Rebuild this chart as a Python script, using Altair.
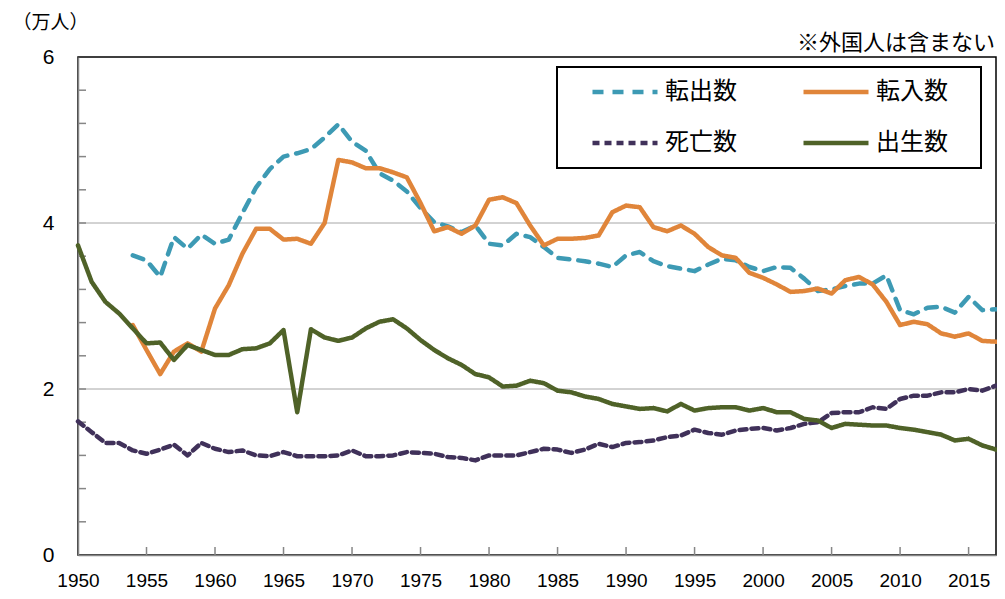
import altair as alt
import pandas as pd

years = list(range(1950, 2018))

# 転出数 (from 1954)
tenshutsu = [None, None, None, None,
             3.61, 3.55, 3.35, 3.83, 3.69, 3.86, 3.75, 3.80, 4.12, 4.43,
             4.65, 4.80, 4.84, 4.89, 5.03, 5.19, 4.98, 4.87, 4.60, 4.51,
             4.38, 4.18, 4.01, 3.96, 3.89, 3.97, 3.75, 3.73, 3.87, 3.83,
             3.71, 3.58, 3.56, 3.54, 3.51, 3.47, 3.61, 3.65, 3.54, 3.48,
             3.45, 3.42, 3.50, 3.57, 3.55, 3.47, 3.42, 3.47, 3.46, 3.33,
             3.18, 3.20, 3.24, 3.27, 3.27, 3.37, 2.95, 2.90, 2.98, 2.99,
             2.92, 3.11, 2.95, 2.96]

# 転入数 (from 1954)
tennyu = [None, None, None, None,
          2.77, 2.47, 2.18, 2.45, 2.55, 2.45, 2.97, 3.25, 3.63, 3.93,
          3.93, 3.80, 3.81, 3.75, 4.00, 4.76, 4.73, 4.66, 4.66, 4.61,
          4.55, 4.24, 3.90, 3.95, 3.87, 3.97, 4.28, 4.31, 4.24, 3.97,
          3.73, 3.81, 3.81, 3.82, 3.85, 4.13, 4.21, 4.19, 3.95, 3.90,
          3.97, 3.87, 3.71, 3.61, 3.58, 3.40, 3.34, 3.26, 3.17, 3.18,
          3.21, 3.15, 3.31, 3.35, 3.26, 3.05, 2.77, 2.81, 2.78, 2.67,
          2.63, 2.67, 2.58, 2.57]

# 死亡数
shibo = [1.61, 1.48, 1.35, 1.35, 1.26, 1.22, 1.27, 1.33, 1.20, 1.35,
         1.28, 1.24, 1.26, 1.20, 1.19, 1.24, 1.19, 1.19, 1.19, 1.20,
         1.26, 1.19, 1.19, 1.20, 1.24, 1.23, 1.22, 1.18, 1.17, 1.14,
         1.20, 1.20, 1.20, 1.24, 1.28, 1.27, 1.23, 1.27, 1.34, 1.30,
         1.35, 1.36, 1.38, 1.42, 1.44, 1.51, 1.47, 1.45, 1.50, 1.52,
         1.53, 1.50, 1.53, 1.58, 1.60, 1.71, 1.72, 1.72, 1.78, 1.76,
         1.88, 1.92, 1.92, 1.96, 1.96, 2.00, 1.98, 2.04]

# 出生数
shussei = [3.73, 3.29, 3.05, 2.91, 2.73, 2.55, 2.56, 2.35, 2.53, 2.47,
           2.41, 2.41, 2.48, 2.49, 2.55, 2.71, 1.72, 2.72, 2.62, 2.58,
           2.62, 2.73, 2.81, 2.84, 2.73, 2.59, 2.47, 2.37, 2.29, 2.18,
           2.14, 2.03, 2.04, 2.10, 2.07, 1.98, 1.96, 1.91, 1.88, 1.82,
           1.79, 1.76, 1.77, 1.73, 1.82, 1.74, 1.77, 1.78, 1.78, 1.74,
           1.77, 1.72, 1.72, 1.64, 1.62, 1.53, 1.58, 1.57, 1.56, 1.56,
           1.53, 1.51, 1.48, 1.45, 1.38, 1.40, 1.32, 1.27]

series_names = ["転出数", "転入数", "死亡数", "出生数"]
series_values = [tenshutsu, tennyu, shibo, shussei]
colors = ["#3D9AB4", "#E0853A", "#40315A", "#4F6228"]
dashes = [[11, 9], [1, 0], [7, 5], [1, 0]]
widths = [4.5, 4.5, 3.0, 2.6]

x_tick_labels = [1950, 1955, 1960, 1965, 1970, 1975, 1980, 1985, 1990, 1995, 2000, 2005, 2010, 2015]
x_minor_ticks = [1955, 1960, 1965, 1970, 1975, 1980, 1985, 1990, 1995, 2000, 2005, 2010, 2015]
y_tick_labels = [0, 2, 4, 6]
y_minor_ticks = [0.4, 0.8, 1.2, 1.6, 2.0, 2.4, 2.8, 3.2, 3.6, 4.0, 4.4, 4.8, 5.2, 5.6]
grid_values = [2, 4]

rows = []
for name, vals in zip(series_names, series_values):
    for yr, v in zip(years, vals):
        if v is not None:
            rows.append({"year": yr, "value": v, "series": name})
df = pd.DataFrame(rows)

W, H = 918, 498
JP = "Noto Sans CJK JP"

xscale = alt.Scale(domain=[1950, 2017], nice=False, zero=False)
yscale = alt.Scale(domain=[0, 6], nice=False)

x_axis = alt.Axis(values=x_tick_labels, ticks=False, grid=False, title=None,
                  domainColor="#868686", domainWidth=1.5, format="d",
                  labelFont="Liberation Sans Narrow, Liberation Sans, sans-serif",
                  labelFontSize=19, labelColor="#000", labelPadding=16,
                  labelFlush=False, labelOverlap=False)
y_axis = alt.Axis(values=y_tick_labels, ticks=False, grid=False, format="d",
                  domainColor="#868686", domainWidth=1.5,
                  labelFont="Liberation Sans, sans-serif", labelFontSize=21,
                  labelColor="#000", labelPadding=24,
                  title="（万人）", titleAngle=0, titleAlign="left",
                  titleBaseline="middle", titleX=-66, titleY=-35,
                  titleFont=JP, titleFontSize=19, titleFontWeight="normal",
                  titleColor="#000")

legend = alt.Legend(orient="none", legendX=479, legendY=10, columns=2,
                    direction="horizontal",
                    symbolType="stroke", symbolSize=4225, clipHeight=24,
                    symbolOffset=20, labelOffset=5,
                    labelFont=JP, labelFontSize=24, labelColor="#000",
                    padding=13, rowPadding=27, columnPadding=44,
                    strokeColor="#000", fillColor="#fff",
                    title="\u3000", titleOrient="right", titleFontSize=1,
                    titlePadding=20)

grid = alt.Chart(pd.DataFrame({"value": grid_values})).mark_rule(
    color="#A6A6A6", strokeWidth=1
).encode(y=alt.Y("value:Q", scale=yscale, axis=y_axis))

yticks = alt.Chart(pd.DataFrame({"value": y_minor_ticks})).mark_rule(
    color="#868686", strokeWidth=1.5
).encode(y=alt.Y("value:Q", scale=yscale, axis=y_axis),
         x=alt.value(0), x2=alt.value(8))

xticks = alt.Chart(pd.DataFrame({"year": x_minor_ticks})).mark_rule(
    color="#868686", strokeWidth=1.5
).encode(x=alt.X("year:Q", scale=xscale, axis=x_axis),
         y=alt.value(H - 8), y2=alt.value(H))

lines = alt.Chart(df).mark_line(strokeCap="round", strokeJoin="round").encode(
    x=alt.X("year:Q", scale=xscale, axis=x_axis),
    y=alt.Y("value:Q", scale=yscale, axis=y_axis),
    color=alt.Color("series:N", scale=alt.Scale(domain=series_names, range=colors), legend=legend),
    strokeDash=alt.StrokeDash("series:N", scale=alt.Scale(domain=series_names, range=dashes), legend=legend),
    strokeWidth=alt.StrokeWidth("series:N", scale=alt.Scale(domain=series_names, range=widths), legend=legend),
)

chart = alt.layer(grid, yticks, xticks, lines).properties(
    width=W, height=H,
    padding={"left": 70, "top": 49, "right": 1, "bottom": 36},
    autosize=alt.AutoSizeParams(type="none"),
    title=alt.Title("※外国人は含まない", anchor="end", frame="group",
                    font=JP, fontSize=22, fontWeight="normal", color="#000",
                    offset=4, dx=-1, dy=46),
).configure_view(stroke="#000", strokeWidth=1.5).configure_legend(strokeWidth=2)

chart.save("out.html", embed_options={"renderer": "svg", "actions": False})
